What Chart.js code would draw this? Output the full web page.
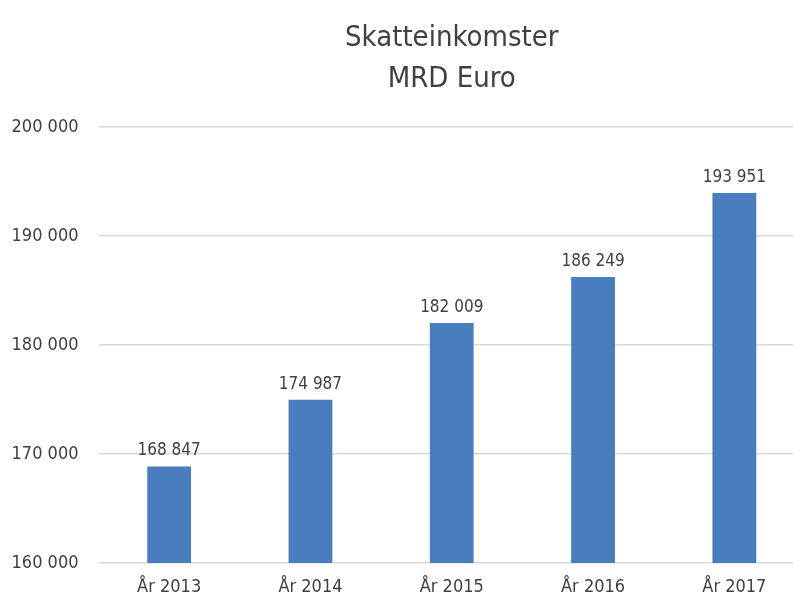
<!DOCTYPE html>
<html>
<head>
<meta charset="utf-8">
<script src="https://cdn.jsdelivr.net/npm/chart.js@4"></script>
<style>
  html, body { margin: 0; padding: 0; background: #fff; overflow: hidden; }
  #wrap { width: 815px; height: 600px; }
</style>
</head>
<body>
<div id="wrap"><canvas id="taxChart" width="815" height="600"></canvas></div>
<script>
const years = ["År 2013", "År 2014", "År 2015", "År 2016", "År 2017"];
const taxIncome = [168847, 174987, 182009, 186249, 193951];
const yTicks = [160000, 170000, 180000, 190000, 200000];
const titleLines = ['Skatteinkomster', 'MRD Euro'];

const FONT = '"DejaVu Sans Condensed", "Liberation Sans Narrow", sans-serif';
const fmt = v => String(v).replace(/\B(?=(\d{3})+(?!\d))/g, ' ');

// title centred over the plot area, like the original
const plotTitle = {
  id: 'plotTitle',
  afterDraw(chart) {
    const ctx = chart.ctx;
    const a = chart.chartArea;
    const cx = (a.left + a.right) / 2;
    ctx.save();
    ctx.font = '29px ' + FONT;
    ctx.fillStyle = '#404040';
    ctx.textAlign = 'center';
    ctx.textBaseline = 'middle';
    ctx.fillText(titleLines[0], cx, 38);
    ctx.fillText(titleLines[1], cx, 79);
    ctx.restore();
  }
};

// value labels above each bar
const barLabels = {
  id: 'barLabels',
  afterDatasetsDraw(chart) {
    const ctx = chart.ctx;
    const meta = chart.getDatasetMeta(0);
    ctx.save();
    ctx.font = '17px ' + FONT;
    ctx.fillStyle = '#404040';
    ctx.textAlign = 'center';
    ctx.textBaseline = 'bottom';
    meta.data.forEach((bar, i) => {
      ctx.fillText(fmt(taxIncome[i]), bar.x, bar.y - 7);
    });
    ctx.restore();
  }
};

new Chart(document.getElementById('taxChart'), {
  type: 'bar',
  data: {
    labels: years,
    datasets: [{
      data: taxIncome,
      backgroundColor: '#4a7dbd',
      barPercentage: 0.31,
      categoryPercentage: 1
    }]
  },
  options: {
    responsive: false,
    animation: false,
    layout: { padding: { left: 0, right: 10, top: 127, bottom: 0 } },
    plugins: {
      legend: { display: false },
      tooltip: { enabled: false },
      title: { display: false }
    },
    scales: {
      x: {
        grid: { display: false },
        border: { display: false },
        ticks: { color: '#404040', font: { family: FONT, size: 18 }, padding: 6 },
        afterFit(scale) { scale.height = 37; }
      },
      y: {
        min: 160000,
        max: 200000,
        afterBuildTicks(scale) { scale.ticks = yTicks.map(v => ({ value: v })); },
        grid: { color: '#d9d9d9', lineWidth: 1.5, drawTicks: false },
        border: { display: false },
        ticks: {
          color: '#404040',
          font: { family: FONT, size: 18 },
          padding: 20,
          callback: v => fmt(v)
        },
        afterFit(scale) { scale.width = 98.5; }
      }
    }
  },
  plugins: [barLabels, plotTitle]
});
</script>
</body>
</html>
